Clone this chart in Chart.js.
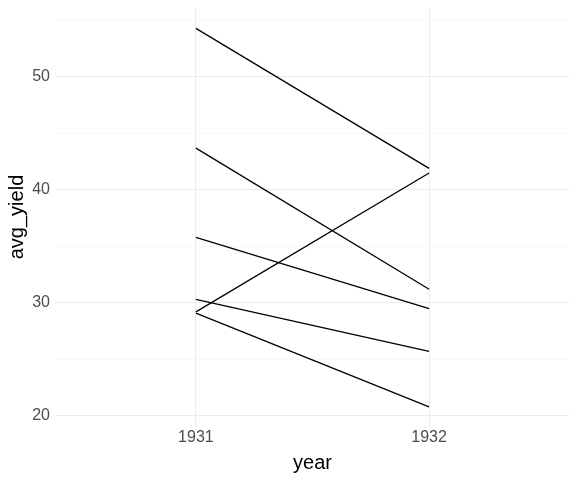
<!DOCTYPE html>
<html>
<head>
<meta charset="utf-8">
<script src="https://cdn.jsdelivr.net/npm/chart.js@4"></script>
<style>
  html, body { margin: 0; padding: 0; background: #fff; }
  #wrap { width: 576px; height: 480px; }
</style>
</head>
<body>
<div id="wrap"><canvas id="chart" width="576" height="480"></canvas></div>
<script>
// avg yield per site, 1931 -> 1932
const years = [1931, 1932];
const sites = ["Waseca", "Crookston", "University Farm", "Duluth", "Morris", "Grand Rapids"];
const yield1931 = [54.3, 43.7, 35.8, 30.3, 29.2, 29.1];
const yield1932 = [41.9, 31.2, 29.5, 25.7, 41.5, 20.8];
const yTicks = [20, 25, 30, 35, 40, 45, 50, 55];
const yLabels = [20, 30, 40, 50];

const datasets = sites.map((s, i) => ({
  label: s,
  data: [{x: years[0], y: yield1931[i]}, {x: years[1], y: yield1932[i]}],
  borderColor: '#000',
  borderWidth: 1.3,
  pointRadius: 0,
  fill: false
}));

const tickFont = { family: "'Liberation Sans', Arial, sans-serif", size: 16 };
const titleFont = { family: "'Liberation Sans', Arial, sans-serif", size: 20 };

new Chart(document.getElementById("chart"), {
  type: 'line',
  data: { datasets: datasets },
  options: {
    responsive: false,
    animation: false,
    layout: { padding: { top: 8, right: 7, left: 0, bottom: 0 } },
    plugins: { legend: { display: false }, tooltip: { enabled: false } },
    scales: {
      x: {
        type: 'linear',
        min: 1930.4,
        max: 1932.6,
        afterBuildTicks: axis => { axis.ticks = years.map(v => ({ value: v })); },
        afterFit: axis => {
          axis.height = 54;
          axis.paddingLeft = 0; axis.paddingRight = 0;
        },
        border: { display: false },
        grid: { color: '#EBEBEB', lineWidth: 1.1, drawTicks: false },
        ticks: { callback: v => String(v), color: '#4D4D4D', font: tickFont, padding: 2, maxRotation: 0 },
        title: { display: true, text: 'year', color: '#000', font: titleFont, padding: { top: 0, bottom: 5 } }
      },
      y: {
        min: 19.1,
        max: 56.1,
        afterBuildTicks: axis => { axis.ticks = yTicks.map(v => ({ value: v })); },
        afterFit: axis => {
          axis.width = 56;
          axis.paddingTop = 0; axis.paddingBottom = 0;
        },
        border: { display: false },
        grid: {
          drawTicks: false,
          color: ctx => yLabels.includes(ctx.tick.value) ? '#EBEBEB' : '#F3F3F3',
          lineWidth: ctx => yLabels.includes(ctx.tick.value) ? 1.1 : 0.6
        },
        ticks: {
          callback: v => yLabels.includes(v) ? String(v) : '',
          color: '#4D4D4D', font: tickFont, padding: 6
        },
        title: { display: true, text: 'avg_yield', color: '#000', font: titleFont, padding: { top: 5, bottom: 0 } }
      }
    }
  }
});
</script>
</body>
</html>
